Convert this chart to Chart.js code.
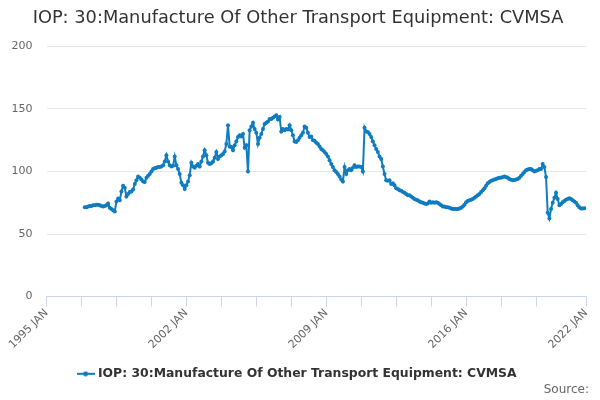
<!DOCTYPE html>
<html>
<head>
<meta charset="utf-8">
<title>IOP: 30:Manufacture Of Other Transport Equipment: CVMSA</title>
<script src="https://cdn.jsdelivr.net/npm/chart.js@4.4.0/dist/chart.umd.min.js"></script>
<style>
  html, body { margin: 0; padding: 0; background: #ffffff; }
  #wrap { width: 600px; height: 400px; position: relative; }
</style>
</head>
<body>
<div id="wrap"><canvas id="chart"></canvas></div>
<script>
'use strict';

// months counted from 1995 JAN = 0; first value is 1996 DEC
var firstMonth = 23;

var seriesName = 'IOP: 30:Manufacture Of Other Transport Equipment: CVMSA';

var values = [
  71.5,
  71.5, 72, 72.5, 72.5, 73, 73, 73.5, 73.5, 73, 72.5, 72, 72.5,          // 1997
  73, 74.5, 71, 70, 69, 68, 76, 78.5, 77, 84, 88.5, 87,                  // 1998
  80, 82, 83.5, 84, 85.5, 90, 93, 96, 95, 93.5, 92, 91.5,                // 1999
  95, 96.5, 98, 100, 102, 102.5, 103, 103.5, 103.5, 104, 105, 108,       // 2000
  113, 108, 105, 104, 104.5, 112, 105, 102, 98, 91, 89, 86,              // 2001
  89, 92, 97, 107, 104, 103, 104.5, 106, 104, 108, 112, 117,             // 2002
  113, 107, 106, 106.5, 108, 111, 115.5, 110, 112, 113, 114, 116,        // 2003
  122, 137, 120, 119.5, 117, 121, 124, 127.5, 129, 128, 130, 119,        // 2004
  121, 100, 133, 136, 139, 134, 131, 122, 127, 130, 134, 138,            // 2005
  139, 140, 142, 142, 143, 144, 145, 141.5, 143.5, 132, 134, 133,        // 2006
  134, 133.5, 137, 133, 129, 124, 123.5, 125, 127, 129, 131, 136,        // 2007
  135, 131, 127.5, 128, 125, 124.5, 123, 122, 120, 118, 117, 115.5,      // 2008
  114, 112, 109, 106, 103.5, 101, 99.5, 98, 96, 93.6, 92, 103.5,         // 2009
  98, 101, 102, 101, 103, 105, 103.5, 104, 104, 103.5, 100, 135,         // 2010
  132, 131.5, 130, 127.5, 124, 121, 118, 115.5, 112, 110, 104, 98,       // 2011
  93, 92.5, 93, 90, 90.5, 89, 86.5, 86, 85, 84.5, 83.5, 83,              // 2012
  82, 81, 81, 80, 79, 78, 77.5, 77, 76, 75.5, 75, 74.5,                  // 2013
  74, 74.5, 76, 75, 75.5, 75, 75.5, 75, 74, 73, 72, 72,                  // 2014
  71.5, 71.5, 71, 70.5, 70, 70, 70, 70, 70.5, 71, 72, 73.5,              // 2015
  75.5, 76.5, 77, 77.5, 78, 79, 80, 81, 82, 83.5, 85, 86.5,              // 2016
  88.5, 90.5, 91.5, 92.5, 93, 93.5, 94, 94.5, 95, 95, 95.5, 96,          // 2017
  95.5, 95, 94, 93.3, 93, 93.2, 93.5, 94, 95, 96.5, 98, 99.5,            // 2018
  101, 101.5, 102, 102, 101, 100, 100.5, 101, 102, 102, 106, 103.5,      // 2019
  95.5, 67, 62.5, 70, 75, 79, 83, 78, 73, 74, 75.5, 76.5,                // 2020
  77.5, 78, 78.6, 78, 77, 76, 75, 73, 71.5, 70.5, 70.5, 70.7             // 2021
];

var xMin = 0;
var xMax = 324;
var tickMonths = [0, 84, 168, 252, 324];
var tickLabels = ['1995 JAN', '2002 JAN', '2009 JAN', '2016 JAN', '2022 JAN'];
var minorStep = 21;
var yTicks = [0, 50, 100, 150, 200];

var lineColor = '#0f7cc0';

var points = values.map(function (v, i) {
  return { x: firstMonth + i, y: v };
});

// little line-with-dot swatch for the legend
var swatch = document.createElement('canvas');
swatch.width = 18;
swatch.height = 6;
var sctx = swatch.getContext('2d');
sctx.strokeStyle = lineColor;
sctx.lineWidth = 2;
sctx.beginPath();
sctx.moveTo(0, 3);
sctx.lineTo(18, 3);
sctx.stroke();
sctx.fillStyle = lineColor;
sctx.beginPath();
sctx.arc(9, 3, 2.5, 0, Math.PI * 2);
sctx.fill();

var sourceNote = {
  id: 'sourceNote',
  afterDraw: function (chart) {
    var c = chart.ctx;
    c.save();
    c.font = '12px "DejaVu Sans"';
    c.fillStyle = '#666666';
    c.textAlign = 'right';
    c.textBaseline = 'middle';
    c.fillText('Source:', 589, 390);
    c.restore();
  }
};

var ctx = document.getElementById('chart').getContext('2d');
var chart = new Chart(ctx, {
  type: 'line',
  data: {
    datasets: [{
      label: seriesName,
      data: points,
      borderColor: lineColor,
      backgroundColor: lineColor,
      borderWidth: 2,
      pointRadius: 2,
      pointBorderWidth: 0,
      pointBackgroundColor: lineColor,
      pointStyle: 'circle',
      tension: 0,
      fill: false
    }]
  },
  options: {
    responsive: true,
    maintainAspectRatio: false,
    animation: false,
    layout: { padding: { left: 10, right: 14, top: 0, bottom: 10 } },
    plugins: {
      title: {
        display: true,
        text: seriesName,
        color: '#333333',
        font: { family: 'DejaVu Sans', size: 17.8, weight: 'normal' },
        padding: { top: 8, bottom: 17 }
      },
      legend: {
        position: 'bottom',
        labels: {
          usePointStyle: true,
          pointStyle: swatch,
          color: '#333333',
          font: { family: 'DejaVu Sans', size: 12.4, weight: 'bold' },
          padding: 12
        }
      },
      tooltip: { enabled: false }
    },
    scales: {
      x: {
        type: 'linear',
        min: xMin,
        max: xMax,
        afterBuildTicks: function (scale) {
          var t = [];
          for (var m = xMin; m <= xMax - 30; m += minorStep) t.push({ value: m });
          t.push({ value: xMax });
          scale.ticks = t;
        },
        afterFit: function (scale) { scale.height = 59; },
        ticks: {
          autoSkip: false,
          minRotation: 45,
          maxRotation: 45,
          color: '#666666',
          font: { family: 'DejaVu Sans', size: 11 },
          padding: 0,
          callback: function (v) {
            var k = tickMonths.indexOf(v);
            return k >= 0 ? tickLabels[k] : '';
          }
        },
        grid: {
          drawOnChartArea: false,
          drawTicks: true,
          tickLength: 10,
          color: '#ccd6eb'
        },
        border: { display: true, color: '#ccd6eb' }
      },
      y: {
        min: 0,
        max: 200,
        afterBuildTicks: function (scale) {
          scale.ticks = yTicks.map(function (v) { return { value: v }; });
        },
        afterFit: function (scale) { scale.width = 36.5; },
        ticks: {
          color: '#666666',
          font: { family: 'DejaVu Sans', size: 11 },
          padding: 14
        },
        grid: {
          color: '#e6e6e6',
          drawTicks: false
        },
        border: { display: false }
      }
    }
  },
  plugins: [sourceNote]
});
</script>
</body>
</html>
